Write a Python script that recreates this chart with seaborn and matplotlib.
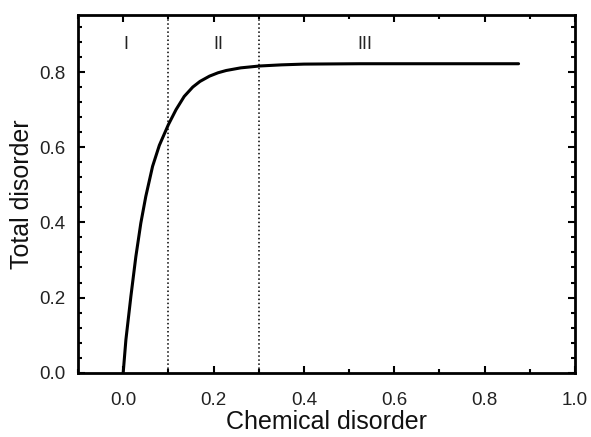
import numpy as np
import pandas as pd
import seaborn as sns
import matplotlib.pyplot as plt
from matplotlib.ticker import MultipleLocator

# curve
chem = [0.0, 0.006, 0.017, 0.028, 0.039, 0.05, 0.065, 0.08, 0.10, 0.117,
        0.135, 0.154, 0.17, 0.191, 0.21, 0.228, 0.26, 0.302, 0.35, 0.40,
        0.524, 0.70, 0.875]
total = [0.0, 0.088, 0.203, 0.309, 0.398, 0.469, 0.549, 0.605, 0.66, 0.70,
         0.735, 0.76, 0.775, 0.789, 0.798, 0.804, 0.811, 0.816, 0.819, 0.821,
         0.822, 0.822, 0.822]

boundaries = [0.1, 0.3]
region_labels = ['I', 'II', 'III']
region_x = [0.007, 0.21, 0.535]

df = pd.DataFrame({'chem': chem, 'total': total})

sns.set_style('ticks')
plt.rcParams['font.family'] = ['Liberation Sans', 'DejaVu Sans']

fig, ax = plt.subplots(figsize=(5.91, 4.37), dpi=100)
sns.lineplot(data=df, x='chem', y='total', color='black', linewidth=2.2, ax=ax)

for b in boundaries:
    ax.axvline(b, color='black', linestyle=':', linewidth=1.1)

for lab, xx in zip(region_labels, region_x):
    ax.text(xx, 0.872, lab, ha='center', va='center', fontsize=13, color='#222')

ax.set_xlim(-0.1, 1.0)
ax.set_ylim(0, 0.952)
ax.xaxis.set_major_locator(MultipleLocator(0.2))
ax.xaxis.set_minor_locator(MultipleLocator(0.1))
ax.yaxis.set_major_locator(MultipleLocator(0.2))
ax.yaxis.set_minor_locator(MultipleLocator(0.04))
ax.tick_params(which='both', direction='in', top=True, right=True, width=1.5, color='black')
ax.tick_params(which='major', length=5, labelsize=13.5, labelcolor='#222')
ax.tick_params(axis='x', which='major', pad=14)
ax.tick_params(axis='y', which='major', pad=9)
ax.tick_params(which='minor', length=3)
for s in ax.spines.values():
    s.set_linewidth(2)
    s.set_color('black')
    s.set_visible(True)

ax.set_xlabel('Chemical disorder', fontsize=18, labelpad=0.5, color='#111')
ax.set_ylabel('Total disorder', fontsize=18, color='#111')

plt.subplots_adjust(left=0.132, right=0.973, top=0.966, bottom=0.147)
plt.savefig('out.png', dpi=100)
